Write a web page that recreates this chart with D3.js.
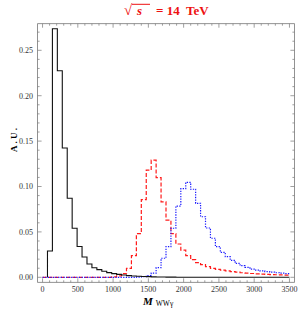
<!DOCTYPE html>
<html lang="en">
<head>
<meta charset="utf-8">
<script src="https://d3js.org/d3.v7.min.js"></script>
<style>
  body { margin: 0; background: #fff; }
  svg text { font-family: "Liberation Serif", "Times New Roman", serif; }
  .tick-label { font-size: 8px; fill: #333; }
</style>
</head>
<body>
<svg id="chart" width="300" height="315"></svg>
<script>
// bins of 70 GeV from 0 to 3500
var binWidth = 70;
var binStarts = d3.range(0, 3500, binWidth);

var blackVals = [0, 0.029, 0.2738, 0.2275, 0.1424, 0.087, 0.054, 0.034, 0.0224, 0.0146,
  0.0106, 0.0085, 0.0066, 0.0052, 0.0041, 0.0032, 0.0025, 0.0019, 0.0015, 0.0012,
  0.0009, 0.0007, 0.0005, 0.0004, 0.0003, 0.0002, 0.0002, 0.0001, 0.0001, 0.0001,
  0, 0, 0, 0, 0, 0, 0, 0, 0, 0, 0, 0, 0, 0, 0, 0, 0, 0, 0, 0];

var redVals = [0, 0, 0, 0, 0, 0, 0, 0, 0, 0, 0, 0, 0, 0, 0.0005, 0.0015, 0.004, 0.0099, 0.0238, 0.048,
  0.0855, 0.118, 0.129, 0.1097, 0.083, 0.063, 0.048, 0.0367, 0.030, 0.0238,
  0.0194, 0.0161, 0.0139, 0.0117, 0.0099, 0.0088, 0.0078, 0.0070, 0.0062, 0.0056,
  0.0050, 0.0046, 0.0042, 0.0038, 0.0035, 0.0032, 0.0030, 0.0028, 0.0026, 0.0025];

var blueVals = [0, 0, 0, 0, 0, 0, 0, 0, 0, 0, 0, 0, 0, 0, 0, 0, 0, 0, 0, 0.0003,
  0.0008, 0.002, 0.0045, 0.0106, 0.021, 0.0337, 0.054, 0.0785, 0.0976, 0.1046,
  0.097, 0.0815, 0.0667, 0.0543, 0.043, 0.0337, 0.0275, 0.0227, 0.0187, 0.0154,
  0.0128, 0.011, 0.0091, 0.008, 0.0071, 0.0063, 0.0056, 0.005, 0.0045, 0.0041];

var xTicks = [0, 500, 1000, 1500, 2000, 2500, 3000, 3500];
var yTicks = [0, 0.05, 0.10, 0.15, 0.20, 0.25];

var svg = d3.select("#chart");
var pLeft = 37.6, pRight = 294.4, pTop = 23.7, pBottom = 282.3;

var x = d3.scaleLinear().domain([-70, 3570]).range([pLeft, pRight]);
var y = d3.scaleLinear().domain([-0.0055, 0.2793]).range([pBottom, pTop]);

//frame
svg.append("rect")
  .attr("x", pLeft).attr("y", pTop)
  .attr("width", pRight - pLeft).attr("height", pBottom - pTop)
  .attr("fill", "none").attr("stroke", "#777").attr("stroke-width", 0.8);

//ticks (inward, all four sides)
var xMinor = d3.range(0, 3501, 100);
var yMinor = d3.range(0, 0.2701, 0.01);
var tg = svg.append("g").attr("stroke", "#777").attr("stroke-width", 0.7);
xMinor.forEach(function(v) {
  var len = (v % 500 === 0) ? 4 : 2;
  tg.append("line").attr("x1", x(v)).attr("x2", x(v)).attr("y1", pBottom).attr("y2", pBottom - len);
  tg.append("line").attr("x1", x(v)).attr("x2", x(v)).attr("y1", pTop).attr("y2", pTop + len);
});
yMinor.forEach(function(v, i) {
  var len = (i % 5 === 0) ? 4 : 2;
  tg.append("line").attr("y1", y(v)).attr("y2", y(v)).attr("x1", pLeft).attr("x2", pLeft + len);
  tg.append("line").attr("y1", y(v)).attr("y2", y(v)).attr("x1", pRight).attr("x2", pRight - len);
});

svg.selectAll(".xlab").data(xTicks).enter().append("text")
  .attr("class", "tick-label")
  .attr("x", function(d) { return x(d); })
  .attr("y", 292)
  .attr("text-anchor", "middle")
  .text(function(d) { return d; });

svg.selectAll(".ylab").data(yTicks).enter().append("text")
  .attr("class", "tick-label")
  .attr("x", 33)
  .attr("y", function(d) { return y(d) + 2.8; })
  .attr("text-anchor", "end")
  .text(function(d) { return d3.format(".2f")(d); });

//histograms
function stepData(vals) {
  var pts = binStarts.map(function(b, i) { return [b, vals[i]]; });
  pts.push([3500, vals[vals.length - 1]]);
  return pts;
}
var line = d3.line()
  .curve(d3.curveStepAfter)
  .x(function(d) { return x(d[0]); })
  .y(function(d) { return y(d[1]); });

svg.append("path")
  .attr("d", line(stepData(redVals)))
  .attr("fill", "none").attr("stroke", "#ff1a1a").attr("stroke-width", 1.2)
  .attr("stroke-dasharray", "4,2");

svg.append("path")
  .attr("d", line(stepData(blueVals)))
  .attr("fill", "none").attr("stroke", "#1a1aff").attr("stroke-width", 1.2)
  .attr("stroke-dasharray", "1.3,1.3");

var blackPts = stepData(blackVals).slice(1);
blackPts.unshift([binStarts[1], 0]);
svg.append("path")
  .attr("d", line(blackPts))
  .attr("fill", "none").attr("stroke", "#111").attr("stroke-width", 1.1);

//title
var title = svg.append("g").attr("fill", "#ee1111")
  .style("font-weight", "bold").style("font-size", "13px");
title.append("text").attr("x", 124).attr("y", 15).style("font-size", "15px").text("\u221A");
title.append("line").attr("x1", 132).attr("x2", 150).attr("y1", 4.3).attr("y2", 4.3)
  .attr("stroke", "#ee1111").attr("stroke-width", 1);
title.append("text").attr("x", 137).attr("y", 15).style("font-style", "italic").text("s");
title.append("text").attr("x", 156).attr("y", 15).attr("xml:space", "preserve").text("= 14  TeV");

//axis labels
svg.append("text")
  .attr("transform", "translate(17,140) rotate(-90)")
  .attr("text-anchor", "middle")
  .style("font-size", "9px").style("font-weight", "bold")
  .attr("xml:space", "preserve")
  .text("A . U .");

var xl = svg.append("text").attr("x", 143).attr("y", 305)
  .style("font-weight", "bold");
xl.append("tspan").style("font-style", "italic").style("font-size", "11px").text("M");
xl.append("tspan").attr("dx", 3).attr("dy", 1).style("font-size", "7.5px").style("font-weight", "normal").text("WW\u03B3");
</script>
</body>
</html>
